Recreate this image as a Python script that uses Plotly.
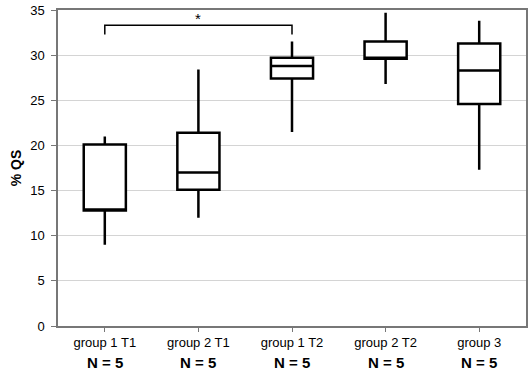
import plotly.graph_objects as go

categories = ["group 1 T1", "group 2 T1", "group 1 T2", "group 2 T2", "group 3"]
n_labels = ["N = 5", "N = 5", "N = 5", "N = 5", "N = 5"]
lower_whisker = [9.0, 12.0, 21.5, 26.8, 17.3]
q1 = [12.8, 15.1, 27.4, 29.6, 24.6]
median = [12.9, 17.0, 28.8, 29.6, 28.3]
q3 = [20.1, 21.4, 29.7, 31.5, 31.3]
upper_whisker = [21.0, 28.4, 31.5, 34.7, 33.8]

bracket_from = 0
bracket_to = 2
bracket_y = 33.3
bracket_drop = 1.0
sig_label = "*"

fig = go.Figure()
fig.add_trace(go.Box(
    x=categories,
    q1=q1, median=median, q3=q3,
    lowerfence=lower_whisker, upperfence=upper_whisker,
    fillcolor="white",
    line=dict(color="black", width=2.5),
    whiskerwidth=0,
    width=0.45,
    boxpoints=False,
    showlegend=False,
    hoverinfo="skip",
))

# significance bracket
fig.add_shape(type="path",
              path=f"M {bracket_from},{bracket_y - bracket_drop} L {bracket_from},{bracket_y} L {bracket_to},{bracket_y} L {bracket_to},{bracket_y - bracket_drop}",
              xref="x", yref="y", line=dict(color="black", width=1.5))
fig.add_annotation(x=(bracket_from + bracket_to) / 2, y=bracket_y, text=sig_label,
                   showarrow=False, yanchor="bottom", yshift=-4,
                   font=dict(family="Arial", size=15, color="black"))

# N labels under categories
for c, n in zip(categories, n_labels):
    fig.add_annotation(x=c, xref="x", y=-0.114, yref="paper", text=f"<b>{n}</b>",
                       showarrow=False, yanchor="middle",
                       font=dict(family="Arial", size=15, color="black"))

fig.update_layout(
    width=529, height=371,
    margin=dict(l=58, r=3, t=10, b=45, autoexpand=False),
    paper_bgcolor="white", plot_bgcolor="white",
    font=dict(family="Arial", color="#111111"),
    xaxis=dict(
        type="category", automargin=False,
        tickfont=dict(size=13, color="black"),
        ticks="outside", ticklen=4, tickcolor="#777777",
        showline=True, linecolor="#777777", linewidth=1.5, mirror=True,
        showgrid=False, range=[-0.5, 4.5],
    ),
    yaxis=dict(
        range=[0, 35], dtick=5, automargin=False,
        tickfont=dict(size=13, color="black"),
        ticks="outside", ticklen=5, tickcolor="#777777", ticklabelstandoff=4,
        showline=True, linecolor="#777777", linewidth=1.5, mirror=True,
        showgrid=True, gridcolor="#d4d4d4", gridwidth=1.2,
        zeroline=False,
        title=dict(text="<b>% QS</b>", font=dict(size=14, color="black"), standoff=5),
    ),
)

# remove the browser's default 8px body margin so the figure fills the window
fig.write_html("out.html", config={"displayModeBar": False},
               post_script="document.body.style.margin='0';document.body.style.overflow='hidden';")
